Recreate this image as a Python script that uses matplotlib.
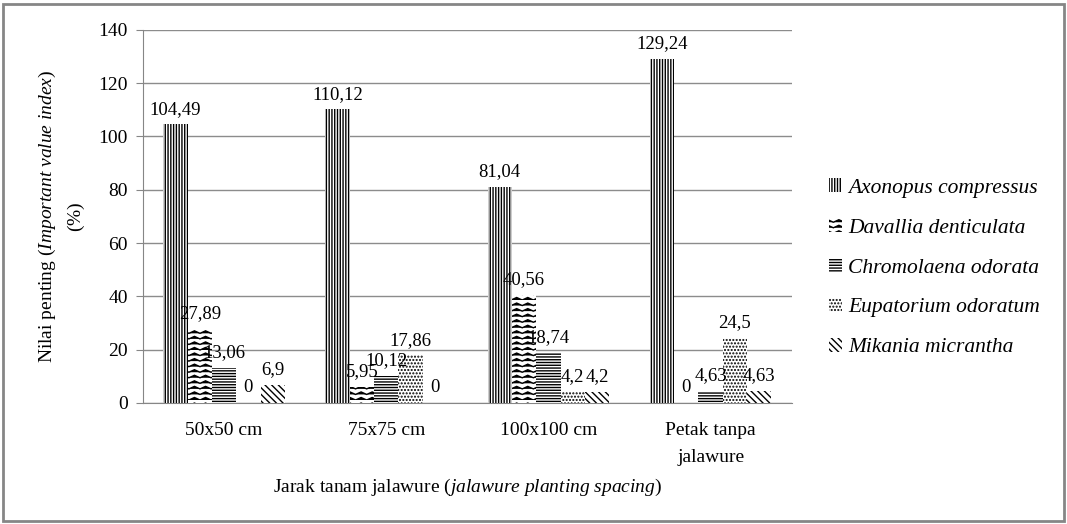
import warnings
import numpy as np
import matplotlib.pyplot as plt
import matplotlib.hatch as mhatch
from matplotlib.path import Path
from matplotlib.patches import Rectangle

warnings.filterwarnings("ignore")

# ================================================================================
# data
categories = ["50x50 cm", "75x75 cm", "100x100 cm", "Petak tanpa\njalawure"]
species = ["Axonopus compressus", "Davallia denticulata", "Chromolaena odorata",
           "Eupatorium odoratum", "Mikania micrantha"]
axonopus = [104.49, 110.12, 81.04, 129.24]
davallia = [27.89, 5.95, 40.56, 0]
chromolaena = [13.06, 10.12, 18.74, 4.63]
eupatorium = [0, 17.86, 4.2, 24.5]
mikania = [6.9, 0, 4.2, 4.63]
hatches = ["||||||", "zzz", "------", ".....", "\\\\\\\\\\"]

# ================================================================================
# zigzag hatch (Excel's "wave" pattern), hooked on the letter z
class ZigZagHatch(mhatch.HatchPatternBase):
  def __init__(self, hatch, density):
    self.num_rows = hatch.count("z") * density
    self.num_peaks = max(int(self.num_rows * 0.55), 1)
    self.per_row = 2 * self.num_peaks + 1
    self.num_vertices = self.num_rows * self.per_row

  def set_vertices_and_codes(self, vertices, codes):
    xs = np.linspace(0, 1, self.per_row)
    amp = 0.45 / self.num_rows
    wiggle = np.where(np.arange(self.per_row) % 2 == 1, amp, 0.0)
    for r in range(self.num_rows):
      s = slice(r * self.per_row, (r + 1) * self.per_row)
      vertices[s, 0] = xs
      vertices[s, 1] = r / self.num_rows + wiggle
      codes[s] = Path.LINETO
      codes[r * self.per_row] = Path.MOVETO

mhatch._hatch_types.append(ZigZagHatch)

# ================================================================================
plt.rcParams["font.family"] = ["Liberation Serif", "DejaVu Serif"]
plt.rcParams["mathtext.fontset"] = "custom"
plt.rcParams["mathtext.rm"] = "Liberation Serif"
plt.rcParams["mathtext.it"] = "Liberation Serif:italic"
plt.rcParams["hatch.linewidth"] = 1.0

fig = plt.figure(figsize=(10.67, 5.24), dpi=100)
ax = fig.add_axes([0.134, 0.231, 0.608, 0.712])

series = [axonopus, davallia, chromolaena, eupatorium, mikania]
x = np.arange(len(categories))
bw = 0.15
for i, vals in enumerate(series):
  pos = x + (i - 2) * bw
  ax.bar(pos, vals, bw, color="white", edgecolor="black", linewidth=0,
         hatch=hatches[i], label=species[i], zorder=3)
  for p, v in zip(pos, vals):
    txt = ("%g" % v).replace(".", ",")
    ax.text(p, v + 2.5, txt, ha="center", va="bottom", fontsize=13.5, zorder=4)

ax.set_xlim(-0.5, 3.5)
ax.set_ylim(0, 140)
ax.set_yticks(np.arange(0, 141, 20))
ax.set_xticks(x)
ax.set_xticklabels(categories, fontsize=14, linespacing=1.7)
ax.tick_params(axis="x", length=0, pad=14)
ax.tick_params(axis="y", labelsize=14, length=5, color="#868686", pad=6)
ax.grid(axis="y", color="#8c8c8c", linewidth=1, zorder=0)
for s in ["top", "right"]:
  ax.spines[s].set_visible(False)
for s in ["left", "bottom"]:
  ax.spines[s].set_color("#868686")

ax.set_ylabel(r"Nilai penting $\mathit{(Important\ value\ index)}$" + "\n" + r"$\mathit{(\%)}$",
              fontsize=14, linespacing=1.5, labelpad=8)
ax.set_xlabel(r"Jarak tanam jalawure ($\mathit{jalawure\ planting\ spacing)}$",
              fontsize=14, labelpad=8)

leg = ax.legend(loc="center left", bbox_to_anchor=(1.027, 0.362), frameon=False,
                prop={"style": "italic", "size": 15.5}, handlelength=0.6,
                handleheight=0.6, handletextpad=0.3, labelspacing=0.95)

fig.patches.append(Rectangle((0.003, 0.006), 0.994, 0.986, transform=fig.transFigure,
                             fill=False, edgecolor="#868686", linewidth=2))

fig.savefig("out.png", dpi=100)
